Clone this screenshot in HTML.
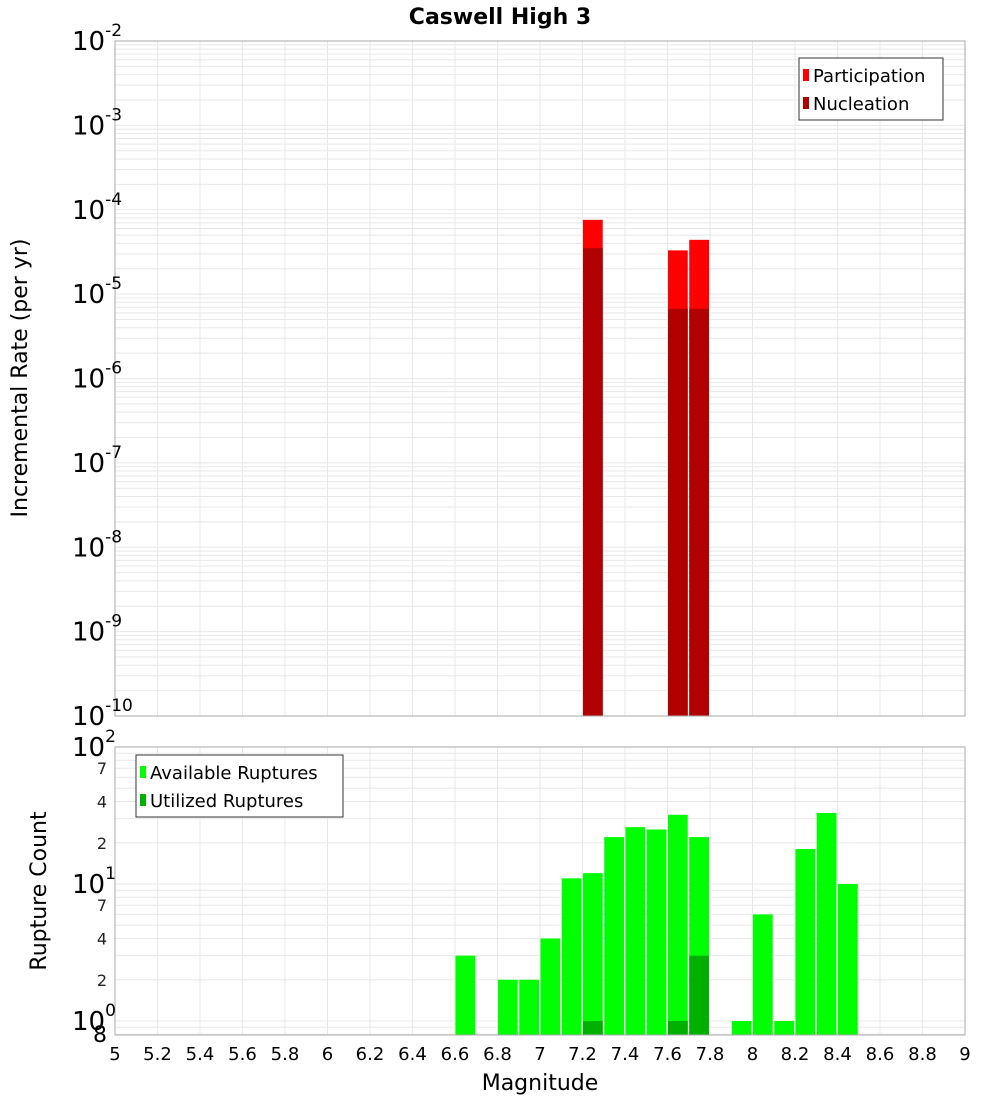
<!DOCTYPE html>
<html><head><meta charset="utf-8"><style>
body{margin:0;background:#fff;}
svg{display:block;font-family:"DejaVu Sans","Liberation Sans",sans-serif;}
</style></head><body>
<svg id="c" width="1000" height="1100" viewBox="0 0 1000 1100" xmlns="http://www.w3.org/2000/svg">
<text x="500" y="24" text-anchor="middle" font-size="22" font-weight="bold">Caswell High 3</text>
<g id="top"></g>
<g id="bot"></g>
<text transform="translate(27,378) rotate(-90)" text-anchor="middle" font-size="22">Incremental Rate (per yr)</text>
<text transform="translate(46,891) rotate(-90)" text-anchor="middle" font-size="22">Rupture Count</text>
<text x="540" y="1090" text-anchor="middle" font-size="22">Magnitude</text>
</svg>
<script>
const magBins=[7.25,7.65,7.75];
const participation=[7.6e-5,3.3e-5,4.4e-5];
const nucleation=[3.5e-5,6.7e-6,6.7e-6];
const countBins=[6.65,6.85,6.95,7.05,7.15,7.25,7.35,7.45,7.55,7.65,7.75,7.95,8.05,8.15,8.25,8.35,8.45];
const available=[3,2,2,4,11,12,22,26,25,32,22,1,6,1,18,33,10];
const utilBins=[7.25,7.65,7.75];
const utilized=[1,1,3];
const xTicks=[5,5.2,5.4,5.6,5.8,6,6.2,6.4,6.6,6.8,7,7.2,7.4,7.6,7.8,8,8.2,8.4,8.6,8.8,9];
const rateExps=[-2,-3,-4,-5,-6,-7,-8,-9,-10];
const countMinor=[2,4,7,20,40,70];

const NS="http://www.w3.org/2000/svg";
const L=115,R=965;
const X=m=>L+(m-5)/4*(R-L);
const T0=41,T1=716;
const YT=v=>T0+(-2-Math.log10(v))/8*(T1-T0);
const B0=747,B1=1035,D=137;
const YB=v=>B0+(2-Math.log10(v))*D;
function el(p,tag,a,txt){const e=document.createElementNS(NS,tag);for(const k in a)e.setAttribute(k,a[k]);if(txt!==undefined)e.textContent=txt;p.appendChild(e);return e;}
const topG=document.getElementById('top'),botG=document.getElementById('bot');
const gc="#e8e8e8";
for(let e=-10;e<-2;e++)for(let k=1;k<10;k++){const y=YT(k*Math.pow(10,e));
 const g=el(topG,'line',{x1:L,x2:R,y1:y,y2:y,stroke:gc,'stroke-width':1});
 
 }
for(const t of xTicks){const x=X(t);
 const g=el(topG,'line',{x1:x,x2:x,y1:T0,y2:T1,stroke:gc});
 
 
 const g2=el(botG,'line',{x1:x,x2:x,y1:B0,y2:B1,stroke:gc});
 
 }
for(let e=-1;e<2;e++)for(let k=1;k<10;k++){const v=k*Math.pow(10,e);if(v<0.8)continue;const y=YB(v);
 const g=el(botG,'line',{x1:L,x2:R,y1:y,y2:y,stroke:gc});
 
 }
const bw=(X(5.1)-X(5))-1.5;
magBins.forEach((m,i)=>{
 const x=X(m-0.05)+0.5;
 const p=el(topG,'rect',{x:x,y:YT(participation[i]),width:bw,height:T1-YT(participation[i]),fill:'#ff0000'});
 
 
 const n=el(topG,'rect',{x:x,y:YT(nucleation[i]),width:bw,height:T1-YT(nucleation[i]),fill:'#b00000'});
 
 
});
countBins.forEach((m,i)=>{
 const y=YB(available[i]);
 const r=el(botG,'rect',{x:X(m-0.05)+0.5,y:y,width:bw,height:B1-y,fill:'#00ff00'});
 
 
});
utilBins.forEach((m,i)=>{
 const y=YB(utilized[i]);
 const r=el(botG,'rect',{x:X(m-0.05)+0.5,y:y,width:bw,height:B1-y,fill:'#00b000'});
 
 
});
el(topG,'rect',{x:L,y:T0,width:R-L,height:T1-T0,fill:'none',stroke:'#aaa'});
el(botG,'rect',{x:L,y:B0,width:R-L,height:B1-B0,fill:'none',stroke:'#aaa'});
for(const e of rateExps){const y=YT(Math.pow(10,e));
 const t=el(topG,'text',{x:72,y:y+9,'font-size':26});
 
 
 t.textContent='10';
 el(t,'tspan',{dy:-14,'font-size':17},String(e));}
for(const e of [2,1,0]){const y=YB(Math.pow(10,e));
 const t=el(botG,'text',{x:72,y:y+9,'font-size':26});
 
 
 t.textContent='10';
 el(t,'tspan',{dy:-14,'font-size':17},String(e));}
for(const v of countMinor){const t=el(botG,'text',{x:107,y:YB(v)+6,'font-size':16,'text-anchor':'end','fill':'#222'},String(v).charAt(0));
 
 }
{const t=el(botG,'text',{x:107,y:1042,'font-size':22,'text-anchor':'end'},'8');
 
 }
for(const v of xTicks){const t=el(botG,'text',{x:X(v),y:1060,'font-size':18,'text-anchor':'middle'},String(v));
 
 }
function legend(p,x,y,w,items,name){const g=el(p,'g',{});
 
 
 el(g,'rect',{x:x,y:y,width:w,height:items.length*28+6,fill:'#fff',stroke:'#333'});
 items.forEach((it,i)=>{const yy=y+17+i*28;
  el(g,'rect',{x:x+4,y:yy-6,width:6,height:12,fill:it[1]});
  el(g,'text',{x:x+14,y:yy+7,'font-size':18},it[0]);});}
legend(topG,799,58,144,[['Participation','#ff0000'],['Nucleation','#b00000']],'rate-legend');
legend(botG,136,755,207,[['Available Ruptures','#00ff00'],['Utilized Ruptures','#00b000']],'count-legend');
</script>
</body></html>
